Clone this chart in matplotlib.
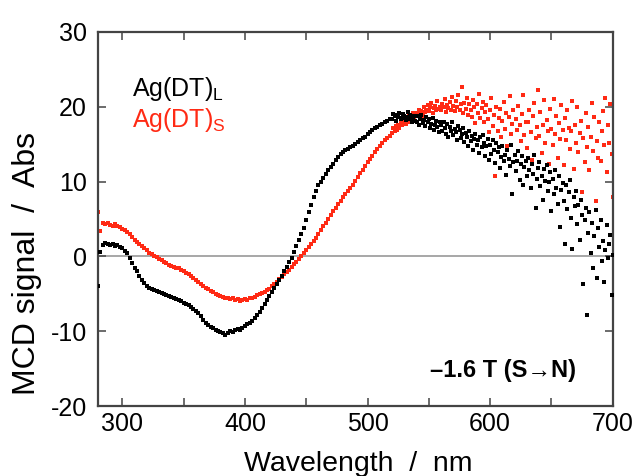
import numpy as np
import matplotlib
matplotlib.use("Agg")
import matplotlib.pyplot as plt
from matplotlib.ticker import MultipleLocator

plt.rcParams['font.family'] = ['Liberation Sans', 'DejaVu Sans']
plt.rcParams['axes.unicode_minus'] = False

# wavelength grid: 2 nm steps up to 518 nm, 1 nm steps in the noisy red end
wavelength = np.concatenate([np.arange(280, 520, 2), np.arange(520, 701, 1)])

# Ag(DT)L  (black)
mcd_L = [
    -4.0, 0.6, 1.5, 1.8, 1.6, 1.5, 1.7, 1.4, 1.5, 1.2,
    1.1, 0.7, 0.4, -0.2, -0.9, -1.5, -2.0, -2.6, -3.2, -3.6,
    -3.9, -4.2, -4.4, -4.5, -4.6, -4.8, -4.9, -5.0, -5.1, -5.3,
    -5.4, -5.5, -5.7, -5.8, -6.0, -6.2, -6.3, -6.5, -6.8, -7.0,
    -7.3, -7.6, -8.0, -8.5, -8.9, -9.2, -9.4, -9.6, -9.8, -10.0,
    -10.1, -10.3, -10.5, -10.2, -10.0, -10.1, -9.8, -9.7, -9.9, -9.6,
    -9.3, -9.1, -8.9, -8.6, -8.2, -7.8, -7.4, -6.9, -6.3, -5.8,
    -5.3, -4.7, -4.2, -3.7, -3.2, -2.6, -2.0, -1.4, -0.8, -0.2,
    0.6, 1.4, 2.2, 3.0, 3.8, 4.8, 5.9, 6.9, 7.9, 8.8,
    9.5, 10.0, 10.5, 11.0, 11.5, 12.0, 12.4, 12.9, 13.3, 13.7,
    14.0, 14.2, 14.4, 14.6, 14.8, 15.0, 15.3, 15.5, 15.8, 16.0,
    16.3, 16.6, 16.9, 17.1, 17.3, 17.5, 17.7, 17.9, 18.1, 18.3,
    # 520 - 700 nm
    18.4, 19.0, 18.7, 18.1, 18.9, 18.6, 19.2, 18.3, 18.5, 19.0,
    18.8, 18.2, 18.6, 19.3, 18.4, 18.9, 17.9, 18.5, 18.8, 18.1,
    18.0, 18.7, 17.6, 18.4, 18.9, 17.8, 18.2, 17.4, 18.6, 17.9,
    18.3, 17.2, 17.7, 18.5, 16.9, 17.6, 18.1, 17.3, 16.6, 17.9,
    17.5, 16.8, 18.0, 17.1, 16.4, 17.7, 15.9, 17.3, 16.7, 17.9,
    16.2, 17.0, 16.6, 15.6, 17.4, 16.9, 15.8, 16.4, 17.2, 15.3,
    16.5, 15.9, 14.7, 16.8, 15.4, 16.1, 14.2, 15.7, 16.4, 14.9,
    15.5, 13.8, 15.9, 14.6, 16.2, 15.1, 13.4, 14.8, 15.7, 12.9,
    14.9, 13.7, 15.6, 14.2, 12.5, 15.1, 13.9, 14.6, 11.8, 13.3,
    14.8, 12.7, 13.6, 10.9, 14.2, 13.0, 12.1, 14.9, 8.3, 12.6,
    13.5, 11.4, 12.8, 14.1, 10.2, 12.3, 13.4, 9.6, 11.9, 12.7,
    10.7, 13.2, 11.5, 9.1, 12.4, 11.0, 13.5, 6.4, 10.3, 11.8,
    12.6, 9.4, 10.8, 7.5, 11.7, 10.1, 12.2, 8.7, 9.9, 11.3,
    6.1, 10.4, 8.3, 11.6, 9.2, 7.0, 10.7, 3.9, 8.9, 9.8,
    7.4, 1.6, 9.5, 6.3, 8.6, 10.2, 5.1, 1.0, 7.9, 6.7,
    8.8, 4.3, 6.9, 2.2, 7.6, 5.5, -3.7, 4.8, 6.4, -7.8,
    3.1, 5.9, 0.4, 4.5, -1.6, 2.7, 6.2, -2.9, 3.8, 1.2,
    4.9, -0.6, 2.0, -3.4, 0.9, 4.2, -0.2, 1.7, 2.9, -5.1,
    0.2,
]

# Ag(DT)S  (red)
mcd_S = [
    5.9, 3.4, 4.5, 4.3, 4.4, 4.2, 4.1, 4.3, 4.0, 3.9,
    3.7, 3.5, 3.3, 3.0, 2.6, 2.2, 1.9, 1.7, 1.4, 1.1,
    0.8, 0.5, 0.3, 0.1, -0.1, -0.3, -0.5, -0.7, -0.9, -1.1,
    -1.3, -1.4, -1.5, -1.6, -1.8, -2.0, -2.2, -2.4, -2.6, -2.9,
    -3.1, -3.4, -3.7, -4.0, -4.2, -4.4, -4.6, -4.8, -5.0, -5.1,
    -5.3, -5.4, -5.5, -5.6, -5.7, -5.6, -5.8, -5.7, -5.9, -5.8,
    -5.7, -5.8, -5.6, -5.5, -5.4, -5.2, -5.0, -4.9, -4.7, -4.5,
    -4.3, -4.0, -3.7, -3.4, -3.0, -2.7, -2.4, -2.1, -1.8, -1.4,
    -1.0, -0.7, -0.3, 0.1, 0.4, 0.8, 1.2, 1.6, 2.0, 2.5,
    3.0, 3.5, 4.0, 4.5, 5.0, 5.5, 6.0, 6.5, 7.0, 7.4,
    7.9, 8.3, 8.7, 9.1, 9.6, 10.1, 10.6, 11.1, 11.6, 12.1,
    12.6, 13.0, 13.4, 13.9, 14.3, 14.7, 15.1, 15.5, 15.8, 16.1,
    # 520 - 700 nm
    16.5, 17.1, 16.8, 17.4, 16.9, 17.6, 17.2, 17.9, 17.5, 17.8,
    18.2, 17.7, 18.4, 18.0, 18.8, 18.3, 18.6, 19.1, 18.5, 18.9,
    19.2, 18.7, 19.5, 19.0, 19.4, 18.8, 19.9, 19.3, 19.6, 20.2,
    19.4, 19.9, 20.5, 19.2, 19.8, 20.1, 19.5, 20.7, 19.7, 20.0,
    19.6, 20.4, 19.9, 21.0, 19.3, 20.2, 19.8, 20.6, 19.5, 21.3,
    20.1, 19.4, 20.7, 19.9, 21.6, 19.6, 20.3, 22.6, 19.2, 20.5,
    19.7, 21.1, 18.9, 20.4, 19.5, 18.6, 20.9, 19.9, 17.8, 20.3,
    19.1, 21.7, 18.5, 19.8, 20.6, 17.9, 19.3, 20.2, 18.4, 16.6,
    19.6, 21.2, 17.4, 18.9, 10.8, 20.0, 16.8, 18.5, 19.7, 15.9,
    18.1, 20.6, 17.0, 19.2, 14.7, 18.6, 21.4, 16.3, 17.7, 19.5,
    13.6, 18.3, 16.9, 20.1, 17.5, 15.4, 19.0, 21.6, 16.2, 18.0,
    14.5, 17.9, 19.6, 16.6, 12.9, 18.7, 20.5, 15.8, 17.3, 22.3,
    16.1, 19.3, 13.8, 17.6, 20.9, 15.1, 18.2, 16.7, 12.4, 19.7,
    17.0, 14.9, 21.0, 16.4, 18.8, 13.1, 17.8, 15.7, 20.2, 16.9,
    12.2, 18.5, 15.5, 19.6, 17.1, 14.3, 16.8, 20.7, 11.7, 17.5,
    15.2, 19.9, 13.9, 16.5, 18.1, 8.6, 15.8, 12.6, 19.2, 14.6,
    17.3, 11.5, 16.0, 20.5, 14.1, 18.6, 7.4, 15.4, 13.2, 17.9,
    12.8, 16.7, 19.4, 14.9, 21.2, 11.3, 17.6, 15.1, 20.4, 13.7,
    8.0,
]

red = '#ff2a14'
edge = '#444444'

fig = plt.figure(figsize=(6.35, 4.76), dpi=100)
ax = fig.add_axes([0.154, 0.147, 0.811, 0.786])

ax.axhline(0, color='#a0a0a0', lw=1.3, zorder=1)
ax.scatter(wavelength, mcd_L, s=6, marker='s', color='black', linewidths=0, zorder=3)
ax.scatter(wavelength, mcd_S, s=6, marker='s', color=red, linewidths=0, zorder=2)

ax.set_xlim(280, 700)
ax.set_ylim(-20, 30)
ax.xaxis.set_major_locator(MultipleLocator(100))
ax.xaxis.set_minor_locator(MultipleLocator(50))
ax.yaxis.set_major_locator(MultipleLocator(10))

for s in ax.spines.values():
    s.set_linewidth(1.6)
    s.set_color(edge)
ax.tick_params(which='both', direction='in', top=True, right=True,
               length=6, width=1.1, color=edge)
ax.tick_params(axis='both', labelsize=18)
ax.tick_params(axis='x', pad=4)
ax.tick_params(axis='y', pad=8)

ax.set_xlabel('Wavelength  /  nm', fontsize=20.5)
ax.xaxis.set_label_coords(0.505, -0.12)
ax.set_ylabel('MCD signal  /  Abs', fontsize=23)
ax.yaxis.set_label_coords(-0.109, 0.38)

ax.text(307.5, 21.4, r'Ag(DT)$_\mathregular{L}$', fontsize=18, color='black')
ax.text(307.5, 17.3, r'Ag(DT)$_\mathregular{S}$', fontsize=18, color=red)
ax.text(551, -16.1, '\u20131.6 T (S\u2192N)', fontsize=17, fontweight='bold')

fig.savefig('out.png', dpi=100)
